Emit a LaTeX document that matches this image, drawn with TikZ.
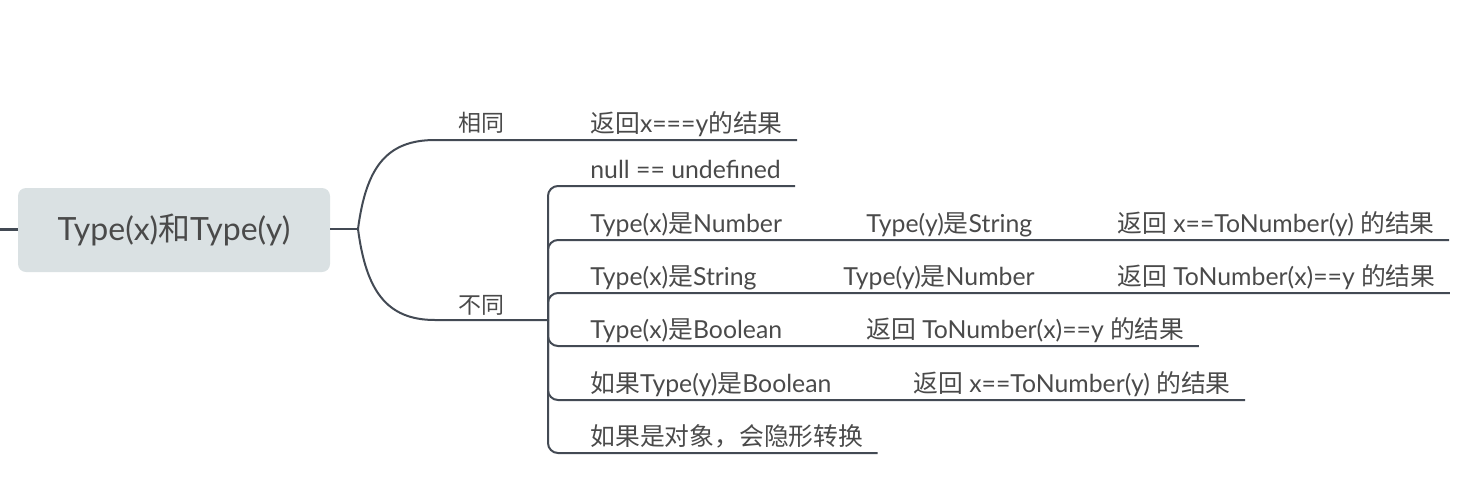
\documentclass[tikz,border=0pt]{standalone}
\usepackage{fontspec}
\setmainfont{Lato}
\newfontfamily\cjkfont{Noto Sans CJK SC}
\newcommand{\zh}[1]{{\cjkfont #1}}
\definecolor{linec}{HTML}{434A54}
\definecolor{textc}{HTML}{4A4A4A}
\definecolor{boxc}{HTML}{DAE1E3}
\tikzset{
  branch/.style={draw=linec, line width=1pt, rounded corners=5pt},
  leaf/.style={anchor=base west, inner xsep=7pt, inner ysep=0pt, text=textc, font=\fontsize{12.4}{14}\selectfont},
  tag/.style={text=textc, font=\fontsize{11.5}{14}\selectfont},
}
\begin{document}
\begin{tikzpicture}[x=0.5pt, y=-0.5pt]
    \useasboundingbox (0,0) rectangle (1472,483);
    % root and the two main branches
    \node[fill=boxc, rounded corners=4pt, minimum width=156pt, minimum height=42pt,
          text=textc, font=\fontsize{16}{19}\selectfont] (root) at (174,230) {Type(x)\zh{和}Type(y)};
    \coordinate (stub) at (0,229);
    \coordinate (fork) at (358,229);
    \coordinate (junc) at (548,320);
    \draw[linec, line width=1.5pt] (stub) -- (stub -| root.west);
    \draw[branch] (fork -| root.east) -- (fork);

\node[tag] (same) at (481,123) {\zh{相同}};
\node[tag] (diff) at (481,305) {\zh{不同}};
\node[leaf] (r0) at (576,132) {\zh{返回}x===y\zh{的结果}};
\draw[branch] (fork) .. controls (366,168) and (386,140) .. (445,140) -- (r0.east |- 0,140);
\draw[branch] (fork) .. controls (366,290) and (386,320) .. (445,320) -- (junc);

    % rows under the second branch
\node[leaf] (r1) at (576,178) {null == undefined};
\node[leaf] (r2a) at (576,232) {Type(x)\zh{是}Number};
\node[leaf] (r2b) at (852,232) {Type(y)\zh{是}String};
\node[leaf] (r2c) at (1103,232) {\zh{返回} x==ToNumber(y) \zh{的结果}};
\node[leaf] (r3a) at (576,285) {Type(x)\zh{是}String};
\node[leaf] (r3b) at (829,285) {Type(y)\zh{是}Number};
\node[leaf] (r3c) at (1103,285) {\zh{返回} ToNumber(x)==y \zh{的结果}};
\node[leaf] (r4a) at (576,338) {Type(x)\zh{是}Boolean};
\node[leaf] (r4b) at (852,338) {\zh{返回} ToNumber(x)==y \zh{的结果}};
\node[leaf] (r5a) at (576,392) {\zh{如果}Type(y)\zh{是}Boolean};
\node[leaf] (r5b) at (899,392) {\zh{返回} x==ToNumber(y) \zh{的结果}};
\node[leaf] (r6) at (576,445) {\zh{如果是对象，会隐形转换}};

    \foreach \tail/\y in {r1/186, r2c/240, r3c/293, r4b/346, r5b/400, r6/453} {
        \draw[branch] (junc) |- (\tail.east |- 0,\y);};

\end{tikzpicture}
\end{document}
